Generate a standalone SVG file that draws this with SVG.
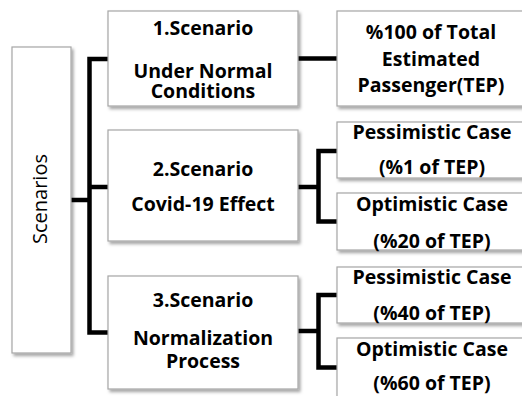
<svg xmlns="http://www.w3.org/2000/svg" width="522" height="396" viewBox="0 0 522 396">
<defs>
<filter id="sh" x="-10%" y="-10%" width="130%" height="130%">
<feDropShadow dx="2" dy="2.5" stdDeviation="1.5" flood-color="#000" flood-opacity="0.35"/>
</filter>
<style>
.box{fill:#fff;stroke:#a6a6a6;stroke-width:1.2;filter:url(#sh)}
.t{font-family:"Open Sans","Liberation Sans",sans-serif;font-weight:bold;font-size:19.5px;fill:#000;text-anchor:middle}
.v{font-family:"Open Sans","Liberation Sans",sans-serif;font-size:20px;fill:#000;text-anchor:middle}
.c{fill:none;stroke:#000;stroke-width:4.5;stroke-linejoin:miter}
</style>
</defs>
<rect width="522" height="396" fill="#fff"/>
<g id="connectors">
<path class="c" d="M108,59 H89.5 V332.5 H108"/>
<path class="c" d="M71,200 H89.5"/>
<path class="c" d="M89.5,187 H108"/>
<path class="c" d="M298,58.5 H337"/>
<path class="c" d="M298,187 H318.5"/>
<path class="c" d="M337,151 H318.5 V221.5 H337"/>
<path class="c" d="M298,331 H318.5"/>
<path class="c" d="M337,295 H318.5 V367.5 H337"/>
</g>
<g id="scenarios">
<rect class="box" x="12" y="47" width="59" height="306"/>
<text class="v" transform="translate(47,199) rotate(-90)">Scenarios</text>
</g>
<g id="s1">
<rect class="box" x="108" y="11" width="190" height="95"/>
<text class="t" x="203" y="35">1.Scenario</text>
<text class="t" x="203" y="78">Under Normal</text>
<text class="t" x="203" y="98">Conditions</text>
</g>
<g id="s2">
<rect class="box" x="108" y="130" width="190" height="111"/>
<text class="t" x="203" y="176">2.Scenario</text>
<text class="t" x="203" y="211">Covid-19 Effect</text>
</g>
<g id="s3">
<rect class="box" x="108" y="276" width="190" height="113"/>
<text class="t" x="203" y="307">3.Scenario</text>
<text class="t" x="203" y="345">Normalization</text>
<text class="t" x="203" y="368">Process</text>
</g>
<g id="r1">
<rect class="box" x="337" y="11" width="200" height="95"/>
<text class="t" x="431" y="39">%100 of Total</text>
<text class="t" x="431" y="66">Estimated</text>
<text class="t" x="431" y="92">Passenger(TEP)</text>
</g>
<g id="r2">
<rect class="box" x="337" y="122" width="200" height="56"/>
<text class="t" x="432" y="139">Pessimistic Case</text>
<text class="t" x="432" y="174">(%1 of TEP)</text>
</g>
<g id="r3">
<rect class="box" x="337" y="193" width="200" height="57"/>
<text class="t" x="432" y="211">Optimistic Case</text>
<text class="t" x="432" y="248">(%20 of TEP)</text>
</g>
<g id="r4">
<rect class="box" x="337" y="267" width="200" height="56"/>
<text class="t" x="432" y="284">Pessimistic Case</text>
<text class="t" x="432" y="320">(%40 of TEP)</text>
</g>
<g id="r5">
<rect class="box" x="337" y="338" width="200" height="70"/>
<text class="t" x="432" y="356">Optimistic Case</text>
<text class="t" x="432" y="390">(%60 of TEP)</text>
</g>
</svg>
